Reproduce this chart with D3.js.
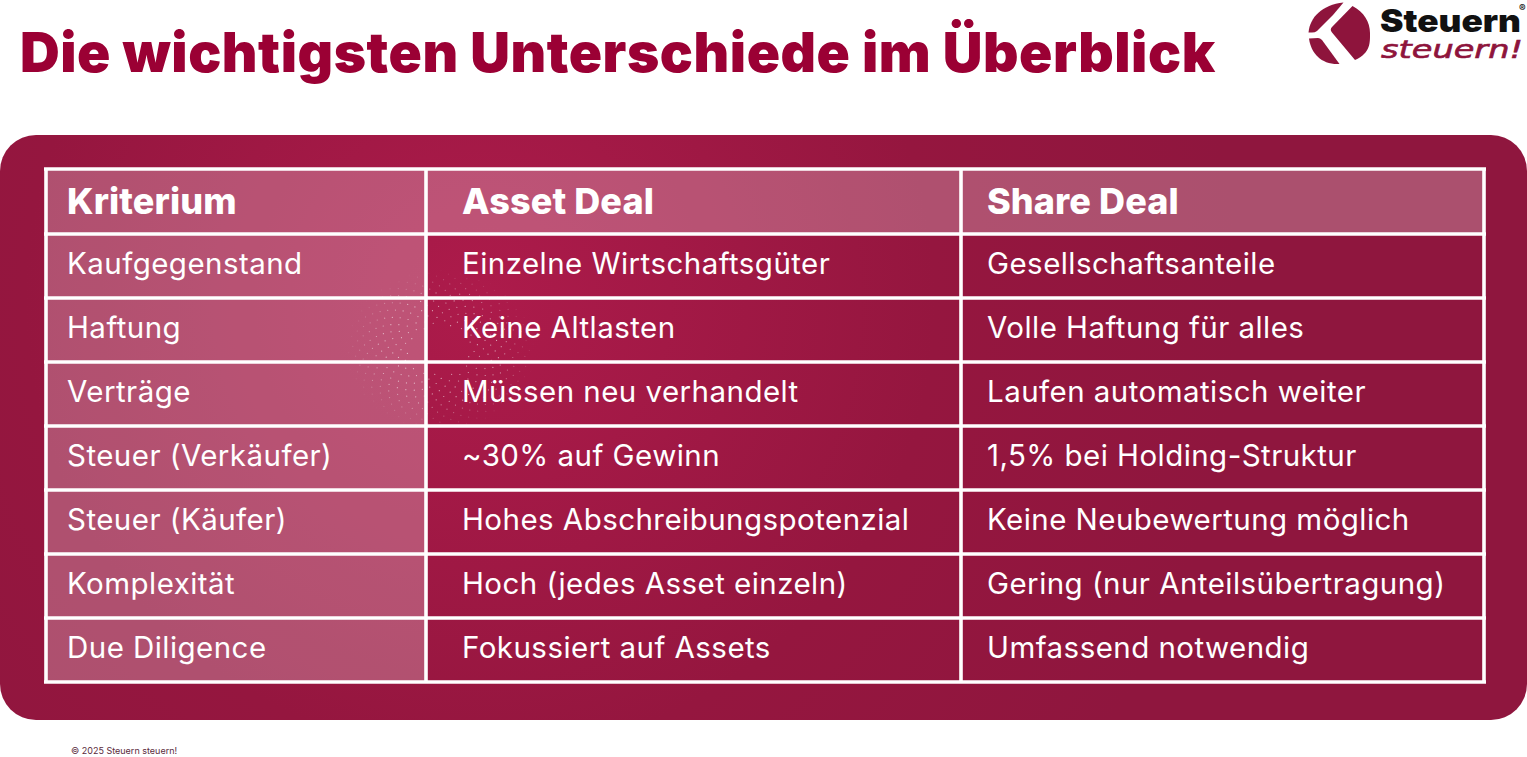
<!doctype html>
<html lang="de">
<head>
<meta charset="UTF-8">
<title>Die wichtigsten Unterschiede im Überblick</title>
<script src="https://cdn.jsdelivr.net/npm/d3@7"></script>
<style>
  html, body { margin: 0; padding: 0; background: #fff; overflow: hidden; }
  text { font-family: Inter, "Noto Sans", sans-serif; font-optical-sizing: none; }
</style>
</head>
<body>
<script>
// table content
var titleText = "Die wichtigsten Unterschiede im Überblick";
var footerText = "© 2025 Steuern steuern!";
var columns = ["Kriterium", "Asset Deal", "Share Deal"];
var criteria = ["Kaufgegenstand", "Haftung", "Verträge", "Steuer (Verkäufer)", "Steuer (Käufer)", "Komplexität", "Due Diligence"];
var assetDeal = ["Einzelne Wirtschaftsgüter", "Keine Altlasten", "Müssen neu verhandelt", "~30% auf Gewinn", "Hohes Abschreibungspotenzial", "Hoch (jedes Asset einzeln)", "Fokussiert auf Assets"];
var shareDeal = ["Gesellschaftsanteile", "Volle Haftung für alles", "Laufen automatisch weiter", "1,5% bei Holding-Struktur", "Keine Neubewertung möglich", "Gering (nur Anteilsübertragung)", "Umfassend notwendig"];

var width = 1527, height = 757;

var svg = d3.select("body").append("svg")
    .attr("width", width)
    .attr("height", height)
    .style("display", "block");

var defs = svg.append("defs");

var panelGrad = defs.append("radialGradient")
    .attr("id", "panelGrad")
    .attr("gradientUnits", "userSpaceOnUse")
    .attr("cx", 480).attr("cy", 300).attr("r", 760);
panelGrad.append("stop").attr("offset", "0").attr("stop-color", "#ad1b4b");
panelGrad.append("stop").attr("offset", "0.6").attr("stop-color", "#95163f");
panelGrad.append("stop").attr("offset", "1").attr("stop-color", "#8f163e");

svg.append("text")
    .attr("x", 20).attr("y", 72)
    .attr("font-size", 55).attr("font-weight", 900)
    .attr("letter-spacing", 0.55)
    .attr("fill", "#9b0034")
    .text(titleText);

// panel behind the table
svg.append("rect")
    .attr("x", 0).attr("y", 135)
    .attr("width", width).attr("height", 585)
    .attr("rx", 36)
    .attr("fill", "url(#panelGrad)");

var colX = d3.scaleOrdinal().domain([0, 1, 2, 3]).range([46, 426, 961, 1484]);
var rowKeys = d3.range(criteria.length + 1);
var rowY = d3.scaleBand().domain(rowKeys).range([170, 682]);

var rows = [columns].concat(criteria.map(function(d, i) { return [d, assetDeal[i], shareDeal[i]]; }));

var cells = [];
rows.forEach(function(r, ri) {
    r.forEach(function(label, ci) {
        cells.push({ row: ri, col: ci, label: label });
    });
});

// tinted cells: header row and first column
svg.append("g").selectAll("rect")
    .data(cells.filter(function(d) { return d.row === 0 || d.col === 0; }))
    .enter().append("rect")
    .attr("x", function(d) { return colX(d.col); })
    .attr("y", function(d) { return rowY(d.row); })
    .attr("width", function(d) { return colX(d.col + 1) - colX(d.col); })
    .attr("height", rowY.bandwidth())
    .attr("fill", "#fff")
    .attr("fill-opacity", 0.25);

// faint dot swirl around the Haftung / Verträge row, just decoration
var swirl = d3.range(40, 420).map(function(i) {
    return { r: 4.6 * Math.sqrt(i), a: i * 2.39996 };
});
svg.append("g").selectAll("circle")
    .data(swirl)
    .enter().append("circle")
    .attr("cx", function(d) { return 440 + d.r * Math.cos(d.a); })
    .attr("cy", function(d) { return 350 + d.r * Math.sin(d.a) * 0.85; })
    .attr("r", 0.6)
    .attr("fill", "#fff")
    .attr("fill-opacity", function(d) { return d.r < 60 ? 0.6 : 0.6 * (95 - d.r) / 35; });

// grid lines
var lineYs = d3.range(rows.length + 1).map(function(d) {
    return d === 0 ? 169 : d === rows.length ? rowY.range()[1] : rowY(d);
});
var grid = svg.append("g").attr("stroke", "#fff").attr("stroke-width", 3.6).attr("fill", "none");
grid.selectAll("line.h")
    .data(lineYs)
    .enter().append("line")
    .attr("x1", colX(0) - 2).attr("x2", colX(3) + 2)
    .attr("y1", function(d) { return d; })
    .attr("y2", function(d) { return d; });
grid.selectAll("line.v")
    .data(d3.range(columns.length + 1))
    .enter().append("line")
    .attr("y1", 169).attr("y2", rowY.range()[1])
    .attr("x1", function(d) { return colX(d); })
    .attr("x2", function(d) { return colX(d); });

svg.append("g").selectAll("text")
    .data(cells)
    .enter().append("text")
    .attr("x", function(d) { return colX(d.col) + (d.col === 0 ? 21 : d.col === 1 ? 36 : 26); })
    .attr("y", function(d) { return rowY(d.row) + rowY.bandwidth() / 2 + (d.row === 0 ? 12 : 8.3); })
    .attr("font-size", function(d) { return d.row === 0 ? 36 : 29.5; })
    .attr("font-weight", function(d) { return d.row === 0 ? 800 : 400; })
    .attr("letter-spacing", function(d) { return d.row === 0 ? 0.1 : 0.45; })
    .attr("fill", "#fff")
    .text(function(d) { return d.label; });

svg.append("text")
    .attr("x", 71).attr("y", 754)
    .attr("font-size", 9)
    .attr("fill", "#5a2a3c")
    .text(footerText);

// logo
var logo = svg.append("g").attr("fill", "#8e143c");
logo.append("path").attr("d", "M1308.5 32.5 C1310 17 1322 5 1343.5 2.5 L1333 15 L1317 31 Q1315 32.5 1312 32.5 Z");
logo.append("path").attr("d", "M1352.5 6 L1332 27 Q1329.5 29.5 1332 32.5 L1355 60 C1371 53 1370 42 1370 33 C1370 22 1364 12 1352.5 6 Z");
logo.append("path").attr("d", "M1309 38.5 L1318 38 Q1320 38 1322 40 L1339.5 64 C1322 65 1311 54 1309 38.5 Z");

svg.append("text")
    .attr("x", 1380).attr("y", 32)
    .attr("font-size", 31.5).attr("font-weight", 900)
    .attr("fill", "#111")
    .attr("textLength", 141).attr("lengthAdjust", "spacingAndGlyphs")
    .text("Steuern");
svg.append("text")
    .attr("x", 1381).attr("y", 58)
    .attr("font-size", 25).attr("font-style", "italic")
    .style("font-family", "'DejaVu Sans'")
    .attr("fill", "#8e143c")
    .attr("stroke", "#8e143c").attr("stroke-width", 0.6)
    .attr("textLength", 142).attr("lengthAdjust", "spacingAndGlyphs")
    .text("steuern!");
svg.append("text")
    .attr("x", 1519).attr("y", 12)
    .attr("font-size", 10).attr("font-weight", 700)
    .attr("fill", "#111")
    .text("®");
</script>
</body>
</html>
